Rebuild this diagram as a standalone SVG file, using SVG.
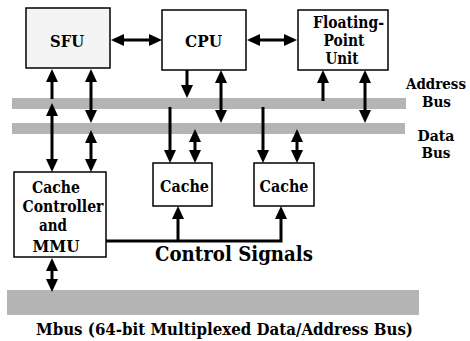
<svg xmlns="http://www.w3.org/2000/svg" width="470" height="341" viewBox="0 0 470 341">
  <style>
    .box { fill: #ffffff; stroke: #000000; stroke-width: 1.5; }
    .bus { fill: #b4b4b4; }
    .wire { stroke: #000000; stroke-width: 3; fill: none; }
    .one { marker-end: url(#head); }
    .two { marker-start: url(#head); marker-end: url(#head); }
    text { font-family: 'DejaVu Serif', 'Liberation Serif', serif; font-weight: bold; font-size: 16.5px; fill: #000000; text-anchor: middle; }
    .side { font-size: 14.5px; }
  </style>
  <defs>
    <!-- filled arrowhead; its base sits at the line end -->
    <marker id="head" markerUnits="userSpaceOnUse" markerWidth="14" markerHeight="14" refX="0" refY="6" orient="auto-start-reverse">
      <path d="M0,0 L13,6 L0,12 Z" fill="#000000"/>
    </marker>
  </defs>

  <rect width="470" height="341" fill="#ffffff"/>

  <!-- buses -->
  <g id="address-bus">
    <rect class="bus" x="12" y="98" width="394" height="11"/>
    <text class="side" x="436" y="89" textLength="60" lengthAdjust="spacingAndGlyphs">Address</text>
    <text class="side" x="436.5" y="107" textLength="29" lengthAdjust="spacingAndGlyphs">Bus</text>
  </g>
  <g id="data-bus">
    <rect class="bus" x="12" y="123" width="393" height="11"/>
    <text class="side" x="436" y="141" textLength="37" lengthAdjust="spacingAndGlyphs">Data</text>
    <text class="side" x="436" y="158" textLength="29" lengthAdjust="spacingAndGlyphs">Bus</text>
  </g>
  <g id="mbus">
    <rect class="bus" x="7" y="290" width="412" height="25"/>
    <text x="224.5" y="334.5" style="font-size:17.5px" textLength="377" lengthAdjust="spacingAndGlyphs">Mbus (64-bit Multiplexed Data/Address Bus)</text>
  </g>

  <!-- units -->
  <g id="sfu">
    <rect class="box" x="26" y="8" width="84" height="60" style="fill:#f4f4f4"/>
    <text x="67" y="47" textLength="34" lengthAdjust="spacingAndGlyphs">SFU</text>
  </g>
  <g id="cpu">
    <rect class="box" x="162" y="10" width="84" height="60"/>
    <text x="203.5" y="47" textLength="37" lengthAdjust="spacingAndGlyphs">CPU</text>
  </g>
  <g id="fpu">
    <rect class="box" x="298" y="10" width="90" height="60"/>
    <text x="348.5" y="28" textLength="71" lengthAdjust="spacingAndGlyphs">Floating-</text>
    <text x="344" y="46" textLength="41" lengthAdjust="spacingAndGlyphs">Point</text>
    <text x="342" y="64" textLength="33" lengthAdjust="spacingAndGlyphs">Unit</text>
  </g>
  <g id="cache-controller">
    <rect class="box" x="14" y="172" width="92" height="85"/>
    <text x="56" y="193" textLength="48" lengthAdjust="spacingAndGlyphs">Cache</text>
    <text x="63" y="212" textLength="81" lengthAdjust="spacingAndGlyphs">Controller</text>
    <text x="53" y="231" textLength="28" lengthAdjust="spacingAndGlyphs">and</text>
    <text x="56" y="252" textLength="47" lengthAdjust="spacingAndGlyphs">MMU</text>
  </g>
  <g id="cache-1">
    <rect class="box" x="153" y="163" width="59" height="43"/>
    <text x="184.5" y="192" textLength="49" lengthAdjust="spacingAndGlyphs">Cache</text>
  </g>
  <g id="cache-2">
    <rect class="box" x="254" y="163" width="60" height="43"/>
    <text x="284" y="192" textLength="49" lengthAdjust="spacingAndGlyphs">Cache</text>
  </g>

  <g id="control-signals">
    <text x="234" y="261" style="font-size:19.5px" textLength="158" lengthAdjust="spacingAndGlyphs">Control Signals</text>
  </g>

  <!-- connectors -->
  <g id="connectors">
    <!-- SFU / CPU / FPU links -->
    <line class="wire two" x1="124" y1="40" x2="149" y2="40"/>
    <line class="wire two" x1="260" y1="40" x2="284" y2="40"/>

    <!-- SFU to buses and cache controller -->
    <line class="wire one" x1="52" y1="99" x2="52" y2="82"/>
    <line class="wire two" x1="52" y1="116" x2="52" y2="159"/>
    <line class="wire two" x1="91" y1="82" x2="91" y2="110"/>
    <line class="wire two" x1="91" y1="143" x2="91" y2="159"/>

    <!-- CPU to buses -->
    <line class="wire one" x1="187" y1="70" x2="187" y2="85"/>
    <line class="wire two" x1="221" y1="83" x2="221" y2="110"/>

    <!-- FPU to buses -->
    <line class="wire one" x1="323" y1="101" x2="323" y2="83"/>
    <line class="wire two" x1="365" y1="83" x2="365" y2="110"/>

    <!-- buses to caches -->
    <line class="wire one" x1="170" y1="107" x2="170" y2="150"/>
    <line class="wire two" x1="195" y1="142" x2="195" y2="150"/>
    <line class="wire one" x1="263" y1="107" x2="263" y2="150"/>
    <line class="wire two" x1="297" y1="142" x2="297" y2="150"/>

    <!-- cache controller to Mbus -->
    <line class="wire two" x1="52" y1="271" x2="52" y2="279"/>

    <!-- control signals -->
    <polyline class="wire one" points="106,241 281,241 281,219"/>
    <line class="wire one" x1="178" y1="241" x2="178" y2="219"/>
  </g>
</svg>
